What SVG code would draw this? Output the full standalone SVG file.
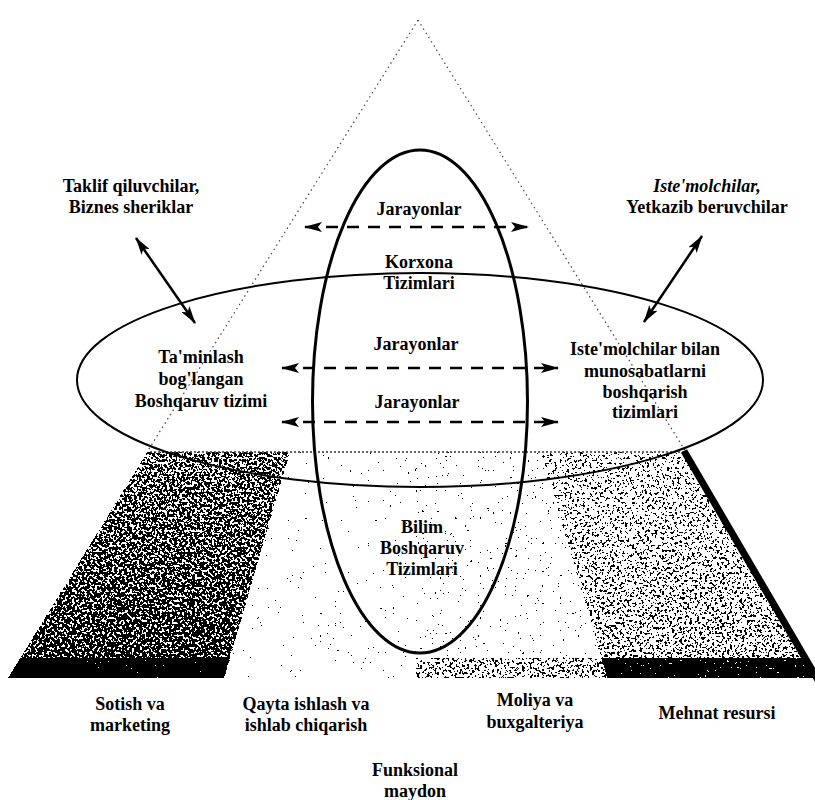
<svg xmlns="http://www.w3.org/2000/svg" width="815" height="800" viewBox="0 0 815 800">
<style>
  text { font-family: 'Liberation Serif', 'DejaVu Serif', serif; font-weight: 700; font-size: 18px; fill: #000; text-anchor: middle; }
  .it { font-style: italic; }
  .dash { stroke: #000; stroke-width: 2.5; stroke-dasharray: 12 9; fill: none; marker-start: url(#ah); marker-end: url(#ah); }
  .solid { stroke: #000; stroke-width: 2.5; fill: none; marker-start: url(#ah); marker-end: url(#ah); }
  .dot { stroke: #444; stroke-width: 1.2; stroke-dasharray: 1.5 3.5; fill: none; }
  .edge { stroke: #000; fill: none; }
</style>
<defs>
  <marker id="ah" viewBox="0 0 18 10" refX="17" refY="5" markerWidth="18" markerHeight="10" markerUnits="userSpaceOnUse" orient="auto-start-reverse">
    <path d="M0,0 L18,5 L0,10 L4,5 z" fill="#000"/>
  </marker>
  <filter id="stip" filterUnits="userSpaceOnUse" x="0" y="0" width="815" height="800" color-interpolation-filters="sRGB">
    <feTurbulence type="fractalNoise" baseFrequency="0.4" numOctaves="2" seed="7" result="t"/>
    <feColorMatrix in="t" type="matrix" values="0 0 0 0 0  0 0 0 0 0  0 0 0 0 0  1 0 0 0 0" result="na"/>
    <feComposite in="na" in2="SourceGraphic" operator="arithmetic" k1="0" k2="1" k3="1" k4="-0.5" result="sum"/>
    <feComponentTransfer in="sum"><feFuncA type="discrete" tableValues="0 1"/></feComponentTransfer>
  </filter>
  <linearGradient id="g1" gradientUnits="userSpaceOnUse" x1="0" y1="452" x2="0" y2="658">
    <stop offset="0" stop-color="#000" stop-opacity="0.5"/>
    <stop offset="1" stop-color="#000" stop-opacity="0.58"/>
  </linearGradient>
  <linearGradient id="g4" gradientUnits="userSpaceOnUse" x1="0" y1="452" x2="0" y2="658">
    <stop offset="0" stop-color="#000" stop-opacity="0.38"/>
    <stop offset="1" stop-color="#000" stop-opacity="0.43"/>
  </linearGradient>
</defs>
<rect width="815" height="800" fill="#fff"/>

<g id="funksional-maydon">
  <g filter="url(#stip)">
    <polygon id="sotish-shade" points="147,452 290,452 230,658 20,658" fill="url(#g1)"/>
    <polygon points="20,658 230,658 224,678 8,678" fill="#000" fill-opacity="0.8"/>
    <polygon id="qayta-shade" points="290,452 416,452 416,678 224,678" fill="#000" fill-opacity="0.22"/>
    <polygon id="moliya-shade" points="416,452 541,452 601,658 416,658" fill="#000" fill-opacity="0.25"/>
    <polygon points="416,658 601,658 607,678 416,678" fill="#000" fill-opacity="0.42"/>
    <polygon id="mehnat-shade" points="541,452 686,452 808,658 601,658" fill="url(#g4)"/>
    <polygon points="601,658 808,658 819,678 607,678" fill="#000" fill-opacity="0.75"/>
  </g>
  <line x1="150" y1="452" x2="688" y2="452" stroke="#333" stroke-width="1.5" stroke-dasharray="2 2"/>
  <line class="edge" x1="684" y1="451" x2="818" y2="680" stroke-width="7"/>
</g>

<g id="piramida">
  <line class="dot" x1="418" y1="20" x2="147" y2="452"/>
  <line class="dot" x1="418" y1="20" x2="686" y2="452" stroke-width="1.6"/>
</g>

<g id="korxona-tizimlari">
  <ellipse cx="420" cy="380" rx="343" ry="107" fill="none" stroke="#000" stroke-width="2"/>
</g>
<g id="jarayonlar-ellips">
  <ellipse cx="420" cy="401.5" rx="107.5" ry="251.5" fill="none" stroke="#000" stroke-width="3"/>
</g>

<g id="connectors">
  <path class="dash" d="M305,227 H528"/>
  <path class="dash" d="M282,368 H558"/>
  <path class="dash" d="M282,422 H558"/>
  <path class="solid" d="M136,238 L195,323"/>
  <path class="solid" d="M702,236 L644,322"/>
</g>

<g id="labels">
<g id="taklif">
  <text x="131" y="192">Taklif qiluvchilar,</text>
  <text x="131" y="213">Biznes sheriklar</text>
</g>
<g id="istemolchilar">
  <text x="707" y="192" class="it">Iste'molchilar,</text>
  <text x="707" y="213">Yetkazib beruvchilar</text>
</g>
<g id="jarayonlar-1"><text x="419" y="215">Jarayonlar</text></g>
<g id="korxona">
  <text x="419" y="268">Korxona</text>
  <text x="419" y="289">Tizimlari</text>
</g>
<g id="jarayonlar-2"><text x="416" y="350">Jarayonlar</text></g>
<g id="jarayonlar-3"><text x="417" y="408">Jarayonlar</text></g>
<g id="taminlash">
  <text x="201" y="363">Ta'minlash</text>
  <text x="201" y="385">bog'langan</text>
  <text x="201" y="407">Boshqaruv tizimi</text>
</g>
<g id="mijoz-boshqaruv">
  <text x="645" y="355">Iste'molchilar bilan</text>
  <text x="645" y="377">munosabatlarni</text>
  <text x="645" y="398">boshqarish</text>
  <text x="645" y="418">tizimlari</text>
</g>
<g id="bilim">
  <text x="422" y="533">Bilim</text>
  <text x="422" y="554">Boshqaruv</text>
  <text x="422" y="575">Tizimlari</text>
</g>
<g id="sotish">
  <text x="130" y="710">Sotish va</text>
  <text x="130" y="731">marketing</text>
</g>
<g id="qayta">
  <text x="306" y="710">Qayta ishlash va</text>
  <text x="306" y="731">ishlab chiqarish</text>
</g>
<g id="moliya">
  <text x="535" y="706">Moliya va</text>
  <text x="535" y="728">buxgalteriya</text>
</g>
<g id="mehnat"><text x="717" y="719">Mehnat resursi</text></g>
<g id="funksional">
  <text x="415" y="776">Funksional</text>
  <text x="415" y="797">maydon</text>
</g>
</g>
</svg>
